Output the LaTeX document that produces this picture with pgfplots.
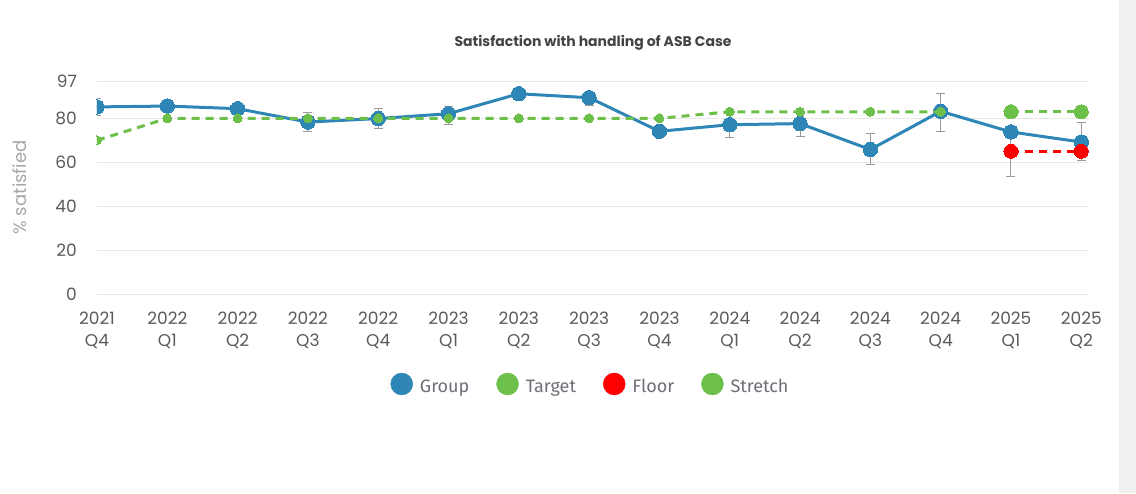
\documentclass[border=0pt]{standalone}
\usepackage{fontspec}
\setmainfont{Poppins}
\newfontfamily\legfont{Fira Sans}
\usepackage{pgfplots}
\usepackage{pgfplotstable}
\pgfplotsset{compat=1.18}

\definecolor{grpblue}{HTML}{2E86B6}
\definecolor{tgtgreen}{HTML}{6CC04A}
\definecolor{floorred}{HTML}{FF0000}
\definecolor{ticktext}{HTML}{5A5A5A}
\definecolor{titletext}{HTML}{444444}
\definecolor{labelgray}{HTML}{A8A8A8}
\definecolor{legtext}{HTML}{6E6E78}
\definecolor{gridgray}{HTML}{E8E8E8}
\definecolor{errgray}{HTML}{9A9A9A}

% group results, with error bar extents (plus / minus)
\pgfplotstableread{
x  y     ep   em
0  85.2  3.7  3.7
1  85.6  0    0
2  84.4  0    0
3  78.3  4.2  4.2
4  79.9  4.4  4.4
5  82.1  3.5  5.0
6  91.2  0    0
7  89.4  1.5  3.5
8  74.1  0    0
9  77.1  1.0  6.0
10 77.6  1.0  5.8
11 65.8  7.2  6.9
12 83.2  8.0  9.1
13 73.8  1.0  20.5
14 69.2  8.8  8.6
}\grouptab

\pgfplotstableread{
x  y
0  70
1  80
2  80
3  80
4  80
5  80
6  80
7  80
8  80
9  83
10 83
11 83
12 83
}\targettab

\pgfplotstableread{
x  y
13 65
14 65
}\floortab

\pgfplotstableread{
x  y
13 83
14 83
}\stretchtab

\begin{document}
\begin{tikzpicture}
\useasboundingbox (-97pt,-199pt) rectangle (1039pt,294pt);
\fill[black!6] (1022pt,-199pt) rectangle (1039pt,294pt);
\begin{axis}[
  at={(0pt,0pt)}, anchor=south west,
  scale only axis,
  width=992pt, height=213pt,
  xmin=0, xmax=14.11,
  ymin=0, ymax=97,
  clip marker paths=true,
  axis line style={draw=none},
  major tick length=0pt,
  ymajorgrids,
  grid style={gridgray, line width=0.8pt},
  ytick={0,20,40,60,80,97},
  xtick={0,...,14},
  xticklabels={{2021\\Q4},{2022\\Q1},{2022\\Q2},{2022\\Q3},{2022\\Q4},
               {2023\\Q1},{2023\\Q2},{2023\\Q3},{2023\\Q4},{2024\\Q1},
               {2024\\Q2},{2024\\Q3},{2024\\Q4},{2025\\Q1},{2025\\Q2}},
  /pgf/number format/assume math mode=true,
  xticklabel style={align=center, anchor=north, inner sep=0pt, yshift=-18pt,
    font=\fontsize{17}{22}\selectfont, text=ticktext},
  yticklabel style={anchor=east, inner sep=0pt, xshift=-20pt,
    font=\fontsize{17}{20}\selectfont, text=ticktext},
  ylabel={\% satisfied},
  ylabel style={at={(axis description cs:-0.0776,0.5)}, anchor=center,
    font=\fontsize{18}{20}\selectfont, text=labelgray},
  title={Satisfaction with handling of ASB Case},
  title style={at={(axis description cs:0.5,1)}, anchor=center, yshift=32pt,
    font=\bfseries\fontsize{14}{16}\selectfont, text=titletext},
  legend style={at={(axis description cs:0.4965,-0.4225)}, anchor=center,
    draw=none, fill=none, legend columns=4,
    nodes={inner sep=0pt},
    font=\legfont\fontsize{18}{20}\selectfont, text=legtext,
    /tikz/every odd column/.append style={column sep=7pt},
    /tikz/every even column/.append style={column sep=27pt}},
  legend cell align=left,
]
\addlegendimage{legend image code/.code={\fill[grpblue] (11pt,0.3em) circle (11pt);}}
\addlegendentry{Group}
\addlegendimage{legend image code/.code={\fill[tgtgreen] (11pt,0.3em) circle (11pt);}}
\addlegendentry{Target}
\addlegendimage{legend image code/.code={\fill[floorred] (11pt,0.3em) circle (11pt);}}
\addlegendentry{Floor}
\addlegendimage{legend image code/.code={\fill[tgtgreen] (11pt,0.3em) circle (11pt);}}
\addlegendentry{Stretch}

\addplot[grpblue, line width=3pt, mark=*, mark size=7.2pt,
  mark options={solid, fill=grpblue, draw=grpblue, line width=0pt},
  error bars/.cd, y dir=both, y explicit,
  error bar style={errgray, line width=1pt},
  error mark options={errgray, line width=1pt, mark size=4.5pt, rotate=90}]
  table[x=x, y=y, y error plus=ep, y error minus=em]{\grouptab};

\addplot[tgtgreen, line width=3pt, dash pattern=on 8pt off 6pt, mark=*, mark size=4.5pt,
  mark options={solid, fill=tgtgreen, draw=tgtgreen, line width=0pt}]
  table[x=x, y=y]{\targettab};

\addplot[floorred, line width=3pt, dash pattern=on 8pt off 6pt, mark=*, mark size=7pt,
  mark options={solid, fill=floorred, draw=floorred, line width=0pt}]
  table[x=x, y=y]{\floortab};

\addplot[tgtgreen, line width=3pt, dash pattern=on 8pt off 6pt, mark=*, mark size=7pt,
  mark options={solid, fill=tgtgreen, draw=tgtgreen, line width=0pt}]
  table[x=x, y=y]{\stretchtab};
\end{axis}
\end{tikzpicture}
\end{document}
